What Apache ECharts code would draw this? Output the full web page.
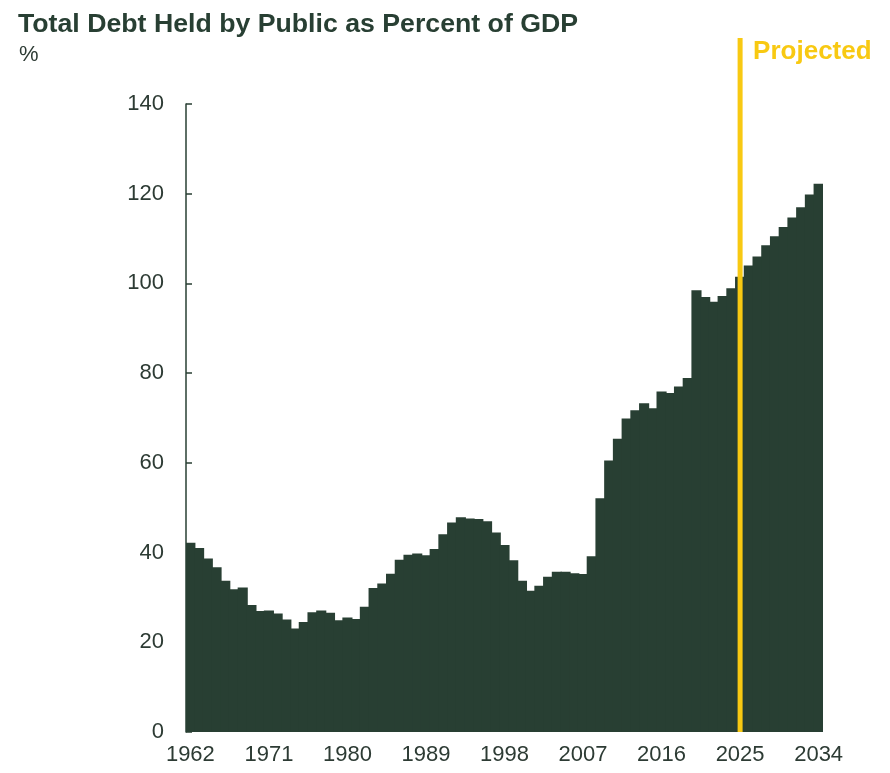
<!DOCTYPE html>
<html>
<head>
<meta charset="utf-8">
<script src="https://cdn.jsdelivr.net/npm/echarts@6/dist/echarts.min.js"></script>
<style>
  html, body { margin: 0; padding: 0; background: #ffffff; }
  #chart { width: 890px; height: 773px; }
</style>
</head>
<body>
<div id="chart"></div>
<script>
// Fiscal years shown on the category axis
var years = [];
for (var y = 1962; y <= 2034; y++) { years.push(String(y)); }

// Debt held by the public, % of GDP (1962–2034)
var debtPct = [
  42.2, 41.0, 38.7, 36.7, 33.7, 31.8, 32.2, 28.3, 27.0, 27.1,
  26.4, 25.1, 23.1, 24.5, 26.7, 27.1, 26.6, 24.9, 25.5, 25.2,
  27.9, 32.1, 33.1, 35.3, 38.4, 39.5, 39.8, 39.4, 40.8, 44.1,
  46.7, 47.9, 47.6, 47.5, 47.0, 44.5, 41.7, 38.3, 33.7, 31.5,
  32.6, 34.6, 35.7, 35.7, 35.4, 35.2, 39.2, 52.1, 60.5, 65.4,
  69.9, 71.7, 73.3, 72.2, 75.9, 75.6, 77.0, 78.9, 98.5, 97.0,
  95.9, 97.2, 98.9, 101.5, 104.0, 106.0, 108.5, 110.5, 112.6, 114.7,
  117.0, 119.8, 122.2
];

// First projected year, marked by the vertical rule
var projectionStart = '2025';
var projectionLabel = 'Projected';

var titleText = 'Total Debt Held by Public as Percent of GDP';
var unitText = '%';

var FONT = '"Liberation Sans", Arial, Helvetica, sans-serif';
var DARK = '#283f33';
var TEXT = '#2d3b34';
var YELLOW = '#f8c912';

var chart = echarts.init(document.getElementById('chart'), null, { renderer: 'canvas' });

chart.setOption({
  animation: false,
  backgroundColor: '#ffffff',
  title: [
    {
      text: titleText,
      left: 13, top: 6,
      textStyle: { fontFamily: FONT, fontSize: 26.7, fontWeight: 'bold', color: DARK }
    },
    {
      text: unitText,
      left: 14, top: 39,
      textStyle: { fontFamily: FONT, fontSize: 22, fontWeight: 'normal', color: TEXT }
    }
  ],
  grid: { left: 186, right: 67, top: 104, bottom: 41, containLabel: false },
  xAxis: {
    type: 'category',
    data: years,
    boundaryGap: true,
    axisLine: { show: false },
    axisTick: { show: false },
    axisLabel: {
      interval: 8,
      margin: 12,
      fontFamily: FONT, fontSize: 22, color: TEXT
    },
    splitLine: { show: false }
  },
  yAxis: {
    type: 'value',
    min: 0, max: 140, interval: 20,
    axisLine: { show: true, lineStyle: { color: DARK, width: 1.5 } },
    axisTick: { show: true, inside: true, length: 6, lineStyle: { color: DARK, width: 1.5 } },
    axisLabel: { margin: 22, fontFamily: FONT, fontSize: 22, color: TEXT },
    splitLine: { show: false }
  },
  series: [
    {
      type: 'bar',
      data: debtPct,
      // wider than the band so adjacent columns merge without seams
      barWidth: '116%',
      itemStyle: { color: DARK },
      emphasis: { disabled: true }
    }
  ]
});

// Vertical rule at the first projected year, running from above the plot down to zero
function drawProjectionRule() {
  var x = chart.convertToPixel({ xAxisIndex: 0 }, projectionStart);
  var yBottom = chart.convertToPixel({ yAxisIndex: 0 }, 0);
  chart.setOption({
    graphic: [
      {
        type: 'line',
        shape: { x1: x, y1: 38, x2: x, y2: yBottom },
        style: { stroke: YELLOW, lineWidth: 5 },
        z: 100
      },
      {
        type: 'text',
        x: x + 13, y: 39,
        style: {
          text: projectionLabel,
          fill: YELLOW,
          font: 'bold 26px ' + FONT,
          textVerticalAlign: 'top'
        },
        z: 100
      }
    ]
  });
}
drawProjectionRule();
</script>
</body>
</html>
